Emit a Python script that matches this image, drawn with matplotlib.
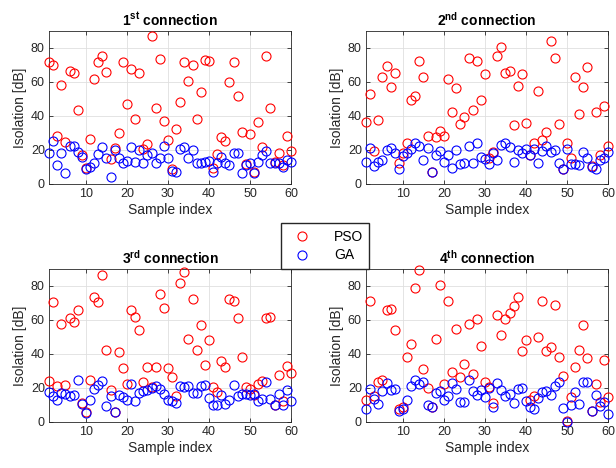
import matplotlib
matplotlib.use("Agg")
import matplotlib.pyplot as plt
import numpy as np

plt.rcParams['font.family'] = ['Liberation Sans', 'DejaVu Sans']
plt.rcParams['mathtext.fontset'] = 'custom'
plt.rcParams['mathtext.rm'] = 'Liberation Sans'
plt.rcParams['mathtext.bf'] = 'Liberation Sans:bold'

# sample index
idx = list(range(1, 61))

# 1st connection
pso1 = [72, 70, 28.4, 58, 24.5, 66.5, 65.5, 43.3, 17, 9.2,
        26.3, 62, 71.6, 75.3, 65.7, 14.5, 21, 29.8, 72, 46.9,
        67.8, 38.2, 65, 20.6, 23.5, 86.9, 44.9, 73.5, 36.9, 25.9,
        8.8, 32.2, 48, 71.9, 60.6, 70, 38, 54.3, 72.9, 72.3,
        9.2, 17.6, 27.4, 25.3, 59.8, 71.9, 51.6, 30.4, 11.6, 29.2,
        7.2, 36.3, 21.6, 75.5, 44.5, 13.1, 18, 11.2, 28.2, 19.4]
ga1 = [18.4, 25.3, 11.2, 18, 6.3, 22.5, 22.5, 19, 16, 8.8,
       10.2, 12.2, 17.5, 21.6, 15.1, 4.3, 19.8, 15.1, 12.2, 13.5,
       21.6, 13.1, 20, 12.2, 17, 18, 12.5, 15.1, 22.5, 15.1,
       7.8, 7.2, 20.6, 22, 15.1, 20, 12.5, 12.5, 13.1, 13.5,
       7.2, 12.5, 15.7, 12.5, 11.2, 18, 18.4, 6.3, 11.2, 12.2,
       6.3, 13.1, 17, 19.4, 12.5, 12.5, 12.5, 10.2, 14.1, 13.1]

# 2nd connection
pso2 = [36.7, 52.8, 19.6, 37.5, 62.7, 69.7, 57, 65.2, 12.2, 18,
        24, 49.5, 51.5, 72.1, 62.7, 28.5, 7.3, 27.9, 31.2, 28.3,
        61.9, 42.6, 56.4, 35.2, 39.3, 74.1, 43.6, 72.1, 49.5, 64.6,
        15.5, 19, 75.4, 80.7, 65.2, 66.2, 34.8, 57.8, 64.8, 36.1,
        17.1, 24, 54.8, 25.9, 30.8, 84.3, 74.1, 35.2, 8.8, 24,
        15.1, 62.7, 41, 56.8, 68.8, 10.8, 42.2, 17.1, 45.8, 22.6]
ga2 = [12.8, 21.4, 10.8, 13.2, 14.1, 20, 21, 18.1, 8.8, 16.7,
       18.1, 20.4, 24, 22.6, 14.1, 21.4, 7.3, 17.1, 19.4, 12.8,
       17.1, 9.2, 20, 11.6, 12.2, 22.6, 12.6, 24, 16.1, 14.5,
       11.6, 18.1, 14.1, 23, 24, 22, 13.2, 20, 18.1, 20.6,
       17.1, 20.6, 12.2, 19.4, 22.6, 19, 20, 12.6, 8.8, 20.4,
       11.6, 11.6, 11.2, 19, 15.5, 10.2, 8.8, 14.1, 15.5, 18.7]

# 3rd connection
pso3 = [24.3, 70.8, 20.9, 57.7, 21.5, 60.9, 58.9, 65.6, 11.2, 6,
        24.9, 73.8, 70.3, 86.7, 42.5, 18.6, 6.1, 41.1, 31.7, 22.5,
        65.6, 61.6, 54.2, 23.5, 32.1, 20.5, 32.1, 75.3, 67.3, 31.7,
        26.2, 15.5, 82, 88.1, 48.7, 72.2, 42.1, 57.1, 33.3, 48.3,
        20.4, 17.6, 35.6, 32.3, 72.2, 71.4, 60.9, 38.2, 20.4, 19.6,
        16, 22.5, 23.9, 60.9, 62, 9.8, 27.8, 12.5, 32.7, 28.8]
ga3 = [17.6, 15.1, 12.7, 17, 16.6, 15.1, 16, 24.5, 10.8, 5.3,
       12.7, 19.6, 21.9, 24.3, 9.6, 15.5, 5.9, 15.7, 14.7, 13.1,
       22.5, 12.1, 17, 18, 19, 20, 20.9, 19.6, 16.6, 13.1,
       12.1, 11.2, 21.3, 20.5, 21.3, 17, 17, 20.9, 21.5, 14.1,
       10.2, 9.8, 16, 10.6, 13.1, 21.5, 15.5, 16.6, 16.6, 16,
       16.4, 12.1, 13.5, 23.3, 13.5, 9.8, 16.6, 9.8, 19, 12.5]

# 4th connection
pso4 = [13.1, 71.2, 15.5, 23.5, 24.5, 65.6, 66.5, 54.2, 7.8, 8.8,
        38.2, 45.8, 78.7, 89.4, 31.3, 20, 8.6, 48.7, 80.6, 22.5,
        71.2, 29.7, 54.6, 26.2, 34.2, 57.7, 28.4, 60.7, 44.8, 23.3,
        20.5, 11.2, 63, 51.3, 60.5, 64, 68.3, 73.8, 41.5, 48.3,
        12.7, 15.1, 49.9, 71.4, 41.9, 44.4, 68.9, 38, 26.8, 0.5,
        14.7, 32.3, 42.5, 57.1, 37.6, 6.3, 22.5, 11.7, 36.2, 14.7]
ga4 = [7.6, 19.6, 13.5, 10.8, 18, 22.9, 18.6, 19.6, 6.7, 7.8,
       12.7, 20.9, 24.5, 22.5, 23.3, 10.2, 8.8, 17, 18, 13.1,
       15.1, 22.9, 19.6, 11.7, 11.7, 24.9, 18, 16, 18.6, 14.7,
       20, 8.6, 22.9, 19, 15.1, 16.6, 11.2, 19.6, 20, 12.1,
       8.8, 7.6, 14.1, 17.4, 18, 16, 20.9, 23.3, 8.2, 0,
       10.2, 17.6, 10.6, 23.3, 23.3, 6.3, 16, 9.2, 11.7, 4.9]

titles = [r'1$^{\mathbf{st}}$ connection', r'2$^{\mathbf{nd}}$ connection',
          r'3$^{\mathbf{rd}}$ connection', r'4$^{\mathbf{th}}$ connection']
pso_all = [pso1, pso2, pso3, pso4]
ga_all = [ga1, ga2, ga3, ga4]

axcol = '#262626'
fig = plt.figure(figsize=(6.16, 4.68), dpi=100)
# axes boxes in figure pixels: left, top
boxes = [(49, 31), (366, 31), (49, 269), (366, 269)]
W, H = 242, 153

for k in range(4):
    left, top = boxes[k]
    ax = fig.add_axes([left / 616, 1 - (top + H) / 468, W / 616, H / 468])
    p1, = ax.plot(idx, pso_all[k], 'o', mfc='none', mec='r', ms=6.5, mew=0.8,
                  clip_on=False, zorder=3, label='PSO')
    p2, = ax.plot(idx, ga_all[k], 'o', mfc='none', mec='b', ms=6.5, mew=0.8,
                  clip_on=False, zorder=4, label='GA')
    ax.set_xlim(1, 60)
    ax.set_ylim(0, 90)
    ax.set_xticks([10, 20, 30, 40, 50, 60])
    ax.set_yticks([0, 20, 40, 60, 80])
    ax.grid(True, color='#dfdfdf', lw=0.6)
    ax.set_axisbelow(True)
    ax.tick_params(direction='in', length=3, width=0.6, colors=axcol,
                   labelsize=9, top=True, right=True, pad=3)
    for s in ax.spines.values():
        s.set_color(axcol)
        s.set_linewidth(0.6)
    ax.set_xlabel('Sample index', fontsize=10, color=axcol, labelpad=2)
    ax.set_ylabel('Isolation [dB]', fontsize=10, color=axcol, labelpad=3)
    ax.set_title(titles[k], fontsize=10, fontweight='bold', pad=4)

fig.legend([p1, p2], ['PSO', 'GA'], loc='center',
           bbox_to_anchor=(325 / 616, 1 - 246 / 468), fontsize=10,
           frameon=True, fancybox=False, edgecolor=axcol, framealpha=1,
           handletextpad=1.2, borderpad=0.45, labelspacing=0.35, handlelength=2.2)

fig.savefig('out.png', dpi=100)
